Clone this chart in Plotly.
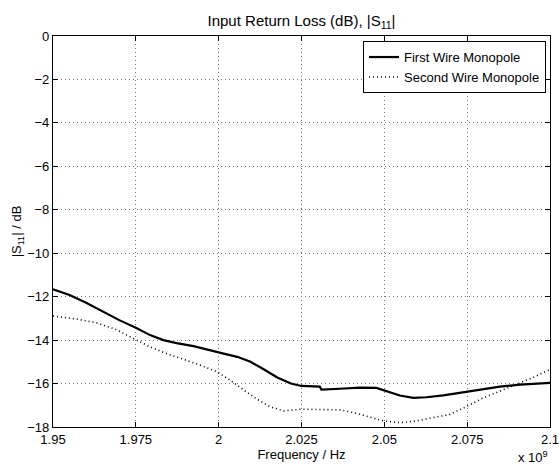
import plotly.graph_objects as go

# Frequency in units of 1e9 Hz
freq_first = [1.950, 1.955, 1.960, 1.965, 1.970, 1.975, 1.9793, 1.9833, 1.9873, 1.9924,
              1.9975, 2.0015, 2.0056, 2.0096, 2.0137, 2.0177, 2.0218, 2.025, 2.0305, 2.031,
              2.0366, 2.0426, 2.0476, 2.0507, 2.0547, 2.0587, 2.0627, 2.0678, 2.0728, 2.0788,
              2.0849, 2.0909, 2.100]
s11_first = [-11.66, -11.92, -12.28, -12.69, -13.08, -13.43, -13.77, -14.00, -14.14, -14.28,
             -14.49, -14.62, -14.77, -15.00, -15.35, -15.72, -16.00, -16.11, -16.14, -16.28,
             -16.24, -16.19, -16.20, -16.35, -16.55, -16.66, -16.63, -16.54, -16.43, -16.27,
             -16.14, -16.05, -15.97]

freq_second = [1.950, 1.957, 1.963, 1.969, 1.9742, 1.9793, 1.9843, 1.9894, 1.9944, 1.9995,
               2.0035, 2.0076, 2.0116, 2.0157, 2.0197, 2.025, 2.0305, 2.0366, 2.0416, 2.0456,
               2.0497, 2.0547, 2.0597, 2.0647, 2.0698, 2.0748, 2.0798, 2.0849, 2.0899, 2.0949,
               2.100]
s11_second = [-12.89, -13.03, -13.20, -13.51, -13.92, -14.31, -14.62, -14.89, -15.15, -15.46,
              -15.85, -16.30, -16.72, -17.08, -17.26, -17.18, -17.18, -17.21, -17.37, -17.56,
              -17.72, -17.80, -17.72, -17.57, -17.42, -17.06, -16.66, -16.35, -16.03, -15.72,
              -15.35]

x_ticks = [1.95, 1.975, 2.0, 2.025, 2.05, 2.075, 2.1]
x_tick_labels = ["1.95", "1.975", "2", "2.025", "2.05", "2.075", "2.1"]
y_ticks = [0, -2, -4, -6, -8, -10, -12, -14, -16, -18]
y_tick_labels = ["0", "\u22122", "\u22124", "\u22126", "\u22128", "\u221210", "\u221212", "\u221214", "\u221216", "\u221218"]

FONT = "Liberation Sans, Arial, Helvetica, sans-serif"
FS = 13

fig = go.Figure()
fig.add_trace(go.Scatter(x=freq_first, y=s11_first, mode="lines", name="First Wire Monopole",
                         line=dict(color="black", width=2.2)))
fig.add_trace(go.Scatter(x=freq_second, y=s11_second, mode="lines", name="Second Wire Monopole",
                         line=dict(color="black", width=1.6, dash="1px,3px")))

axis_common = dict(
    showline=True, linecolor="black", linewidth=1.3, mirror="ticks",
    ticks="inside", ticklen=5, tickwidth=1, tickcolor="black",
    showgrid=True, gridcolor="#777777", gridwidth=1, griddash="1px,3px",
    zeroline=False, automargin=False, ticklabeloverflow="allow",
    tickfont=dict(family=FONT, size=FS, color="black"),
)

fig.update_xaxes(range=[1.95, 2.1], tickvals=x_ticks, ticktext=x_tick_labels,
                 title=dict(text="Frequency / Hz", font=dict(family=FONT, size=FS, color="black"), standoff=3),
                 **axis_common)
fig.update_yaxes(range=[-18, 0], tickvals=y_ticks, ticktext=y_tick_labels,
                 title=dict(text="|S<sub>11</sub>| / dB", font=dict(family=FONT, size=FS, color="black"), standoff=2),
                 **axis_common)

fig.update_layout(
    width=559, height=466,
    margin=dict(l=53, r=9, t=36, b=39),
    paper_bgcolor="white", plot_bgcolor="white",
    font=dict(family=FONT, size=FS, color="black"),
    title=dict(text="Input Return Loss (dB), |S<sub>11</sub>|", x=0.5, xref="paper",
               y=1, yref="paper", yanchor="bottom", pad=dict(b=10),
               font=dict(family=FONT, size=15, color="black")),
    showlegend=True,
    legend=dict(x=0.992, y=0.987, xanchor="right", yanchor="top",
                bgcolor="white", bordercolor="black", borderwidth=1,
                font=dict(family=FONT, size=FS, color="black"),
                tracegroupgap=0, itemwidth=30),
    annotations=[dict(text="x 10<sup>9</sup>", xref="paper", yref="paper", x=1.0, y=0,
                      xanchor="right", yanchor="top", yshift=-20, showarrow=False,
                      font=dict(family=FONT, size=FS, color="black"))],
)

fig.write_html("out.html")
